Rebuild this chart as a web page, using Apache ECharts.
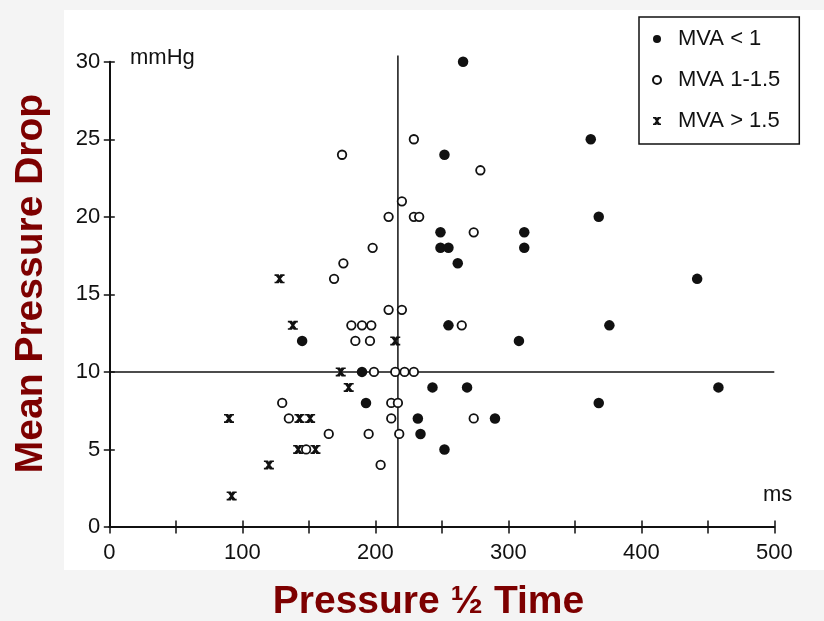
<!DOCTYPE html>
<html>
<head>
<meta charset="utf-8">
<script src="https://cdn.jsdelivr.net/npm/echarts@6/dist/echarts.min.js"></script>
<style>
html, body { margin: 0; padding: 0; background: #f4f4f4; }
#chart { width: 824px; height: 621px; }
</style>
</head>
<body>
<div id="chart"></div>
<script>
// Pressure half-time (ms) against mean pressure drop (mmHg), grouped by mitral valve area

const mvaBelow1 = [
  [266, 30], [252, 24], [362, 25], [368, 20], [249, 19], [312, 19], [249, 18], [255, 18],
  [312, 18], [262, 17], [442, 16], [255, 13], [376, 13], [145, 12], [308, 12], [190, 10],
  [243, 9], [269, 9], [458, 9], [193, 8], [368, 8], [232, 7], [290, 7], [234, 6], [252, 5]
];

const mva1to15 = [
  [229, 25], [175, 24], [279, 23], [220, 21], [210, 20], [229, 20], [233, 20], [274, 19],
  [198, 18], [176, 17], [169, 16], [210, 14], [220, 14], [182, 13], [197, 13], [190, 13],
  [265, 13], [185, 12], [196, 12], [199, 10], [215, 10], [222, 10], [229, 10], [130, 8],
  [212, 8], [217, 8], [135, 7], [212, 7], [274, 7], [165, 6], [195, 6], [218, 6],
  [148, 5], [204, 4]
];

const mvaAbove15 = [
  [128, 16], [138, 13], [215, 12], [174, 10], [180, 9], [90, 7], [143, 7], [151, 7],
  [142, 5], [155, 5], [120, 4], [92, 2]
];

// Divider lines: half-time cut-off and pressure-drop cut-off
const halfTimeDivider = [[217, 0], [217, 30.4]];
const dropDivider = [[0, 10], [500, 10]];

const xTickLabels = [0, 100, 200, 300, 400, 500];
const yTickLabels = [0, 5, 10, 15, 20, 25, 30];

const seriesNames = ['MVA < 1', 'MVA 1-1.5', 'MVA > 1.5'];

const FONT = '"Liberation Sans", Arial, Helvetica, sans-serif';
const INK = '#111111';
const TITLE_RED = '#7d0000';

// bold "x" with flat serifs, used for the largest valve-area group
const crossMark = 'path://M0,0H4.2L5,1.6L5.8,0H10V1.8H8.6L6.4,5L8.6,8.2H10V10H5.8L5,8.4L4.2,10H0V8.2H1.4L3.6,5L1.4,1.8H0Z';

const chart = echarts.init(document.getElementById('chart'), null, { renderer: 'canvas' });

const baseX = { type: 'value', min: 0, max: 500, interval: 50, gridIndex: 0, position: 'bottom' };
const baseY = { type: 'value', min: 0, max: 30, interval: 5, gridIndex: 0, position: 'left' };

chart.setOption({
  backgroundColor: 'transparent',
  animation: false,
  textStyle: { fontFamily: FONT },
  grid: { left: 109.3, right: 49.7, top: 61.7, bottom: 94, containLabel: false },
  graphic: [
    { type: 'rect', z: -100, silent: true, shape: { x: 64, y: 10, width: 760, height: 560 }, style: { fill: '#ffffff' } },
    { type: 'text', x: 130, y: 58, silent: true,
      style: { text: 'mmHg', font: '22px ' + FONT, fill: INK, textVerticalAlign: 'middle' } },
    { type: 'text', x: 763, y: 495, silent: true,
      style: { text: 'ms', font: '22px ' + FONT, fill: INK, textVerticalAlign: 'middle' } },
    { type: 'text', x: 428.5, y: 602, silent: true,
      style: { text: 'Pressure ½ Time', font: 'bold 39px ' + FONT, fill: TITLE_RED, textAlign: 'center', textVerticalAlign: 'middle' } },
    { type: 'text', x: 31, y: 283.5, rotation: Math.PI / 2, silent: true,
      style: { text: 'Mean Pressure Drop', font: 'bold 39px ' + FONT, fill: TITLE_RED, textAlign: 'center', textVerticalAlign: 'middle' } }
  ],
  legend: {
    data: seriesNames,
    orient: 'vertical',
    left: 639,
    top: 17,
    itemWidth: 32,
    itemHeight: 8,
    itemGap: 19,
    padding: [11, 19, 12, 13],
    backgroundColor: '#ffffff',
    borderColor: '#111111',
    borderWidth: 1.5,
    borderRadius: 0,
    textStyle: { fontFamily: FONT, fontSize: 22, color: INK, lineHeight: 22 },
    selectedMode: false
  },
  xAxis: [
    Object.assign({}, baseX, {
      axisLine: { show: true, lineStyle: { color: INK, width: 2 } },
      axisTick: { show: true, inside: false, length: 6.5, lineStyle: { color: INK, width: 1.5 } },
      axisLabel: {
        show: true, margin: 15, fontSize: 22, color: INK, fontFamily: FONT,
        formatter: v => (xTickLabels.indexOf(v) >= 0 ? String(v) : '')
      },
      splitLine: { show: false }
    }),
    Object.assign({}, baseX, {
      axisLine: { show: false },
      axisTick: { show: true, inside: true, length: 6.5, lineStyle: { color: INK, width: 1.5 } },
      axisLabel: { show: false },
      splitLine: { show: false }
    })
  ],
  yAxis: [
    Object.assign({}, baseY, {
      axisLine: { show: true, lineStyle: { color: INK, width: 2 } },
      axisTick: { show: true, inside: false, length: 5.5, lineStyle: { color: INK, width: 1.5 } },
      axisLabel: {
        show: true, margin: 9, fontSize: 22, color: INK, fontFamily: FONT,
        formatter: v => (yTickLabels.indexOf(v) >= 0 ? String(v) : '')
      },
      splitLine: { show: false }
    }),
    Object.assign({}, baseY, {
      axisLine: { show: false },
      axisTick: { show: true, inside: true, length: 5.5, lineStyle: { color: INK, width: 1.5 } },
      axisLabel: { show: false },
      splitLine: { show: false }
    })
  ],
  series: [
    {
      name: 'half-time divider', type: 'line', data: halfTimeDivider,
      xAxisIndex: 0, yAxisIndex: 0, symbol: 'none', clip: false, silent: true, z: 1,
      lineStyle: { color: INK, width: 1.5 }
    },
    {
      name: 'drop divider', type: 'line', data: dropDivider,
      xAxisIndex: 0, yAxisIndex: 0, symbol: 'none', clip: false, silent: true, z: 1,
      lineStyle: { color: INK, width: 1.5 }
    },
    {
      name: seriesNames[0], type: 'scatter', data: mvaBelow1,
      xAxisIndex: 0, yAxisIndex: 0, symbol: 'circle', symbolSize: 10.5,
      itemStyle: { color: INK, opacity: 1 }
    },
    {
      name: seriesNames[1], type: 'scatter', data: mva1to15,
      xAxisIndex: 0, yAxisIndex: 0, symbol: 'circle', symbolSize: 8.5,
      itemStyle: { color: '#ffffff', borderColor: INK, borderWidth: 1.8, opacity: 1 }
    },
    {
      name: seriesNames[2], type: 'scatter', data: mvaAbove15,
      xAxisIndex: 0, yAxisIndex: 0, symbol: crossMark, symbolSize: [10, 9],
      itemStyle: { color: INK, opacity: 1 }
    }
  ]
});
</script>
</body>
</html>
